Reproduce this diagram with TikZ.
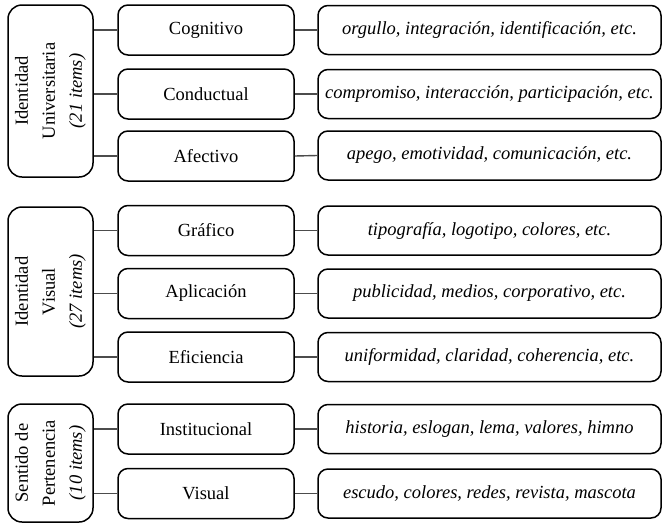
\documentclass[tikz,border=0pt]{standalone}
\usepackage{fontspec}
\setmainfont{Liberation Serif}
\begin{document}
\begin{tikzpicture}[x=1pt,y=-1pt,
  every node/.style={font=\fontsize{18.5}{27}\selectfont},
  leftbox/.style={draw, line width=1.5pt, rounded corners=14pt, minimum width=85pt, inner sep=0pt},
  midbox/.style={draw, line width=1.5pt, rounded corners=10pt, minimum width=176pt, minimum height=50pt, inner sep=0pt},
  rightbox/.style={draw, line width=1.5pt, rounded corners=10pt, minimum width=343pt, minimum height=49pt, inner sep=0pt, font=\fontsize{18.5}{27}\selectfont\itshape},
  vlabel/.style={rotate=90, align=center, inner sep=0pt},
  link/.style={draw=black!70, line width=1.4pt}]
\useasboundingbox (0,0) rectangle (669,528);
% group 1
\node[leftbox, minimum height=172pt] (L1) at (50.5,91) {};
\node[vlabel] (L1t) at (L1.center) {Identidad\\Universitaria\\\textit{(21 items)}};
\node[midbox] (M11) at (206,30) {Cognitivo};
\node[midbox] (M12) at (206,94) {Conductual};
\node[midbox] (M13) at (206,156) {Afectivo};
\node[rightbox] (R11) at (489.5,30) {orgullo, integración, identificación, etc.};
\node[rightbox] (R12) at (489.5,94) {compromiso, interacción, participación, etc.};
\node[rightbox] (R13) at (489.5,155.5) {apego, emotividad, comunicación, etc.};
% group 2
\node[leftbox, minimum height=169pt] (L2) at (50.5,291.5) {};
\node[vlabel] (L2t) at (L2.center) {Identidad\\Visual\\\textit{(27 items)}};
\node[midbox] (M21) at (206,230.5) {Gráfico};
\node[midbox] (M22) at (206,293.5) {Aplicación};
\node[midbox] (M23) at (206,357) {Eficiencia};
\node[rightbox] (R21) at (489.5,230.5) {tipografía, logotipo, colores, etc.};
\node[rightbox] (R22) at (489.5,293.5) {publicidad, medios, corporativo, etc.};
\node[rightbox] (R23) at (489.5,357) {uniformidad, claridad, coherencia, etc.};
% group 3
\node[leftbox, minimum height=118pt] (L3) at (50.5,463) {};
\node[vlabel] (L3t) at (L3.center) {Sentido de\\Pertenencia\\\textit{(10 items)}};
\node[midbox] (M31) at (206,429) {Institucional};
\node[midbox] (M32) at (206,493.5) {Visual};
\node[rightbox] (R31) at (489.5,429) {historia, eslogan, lema, valores, himno};
\node[rightbox] (R32) at (489.5,493.5) {escudo, colores, redes, revista, mascota};
% connectors
\foreach \g/\m in {1/1,1/2,1/3,2/1,2/2,2/3,3/1,3/2}{
  \draw[link] (L\g.east |- M\g\m) -- (M\g\m.west);
  \draw[link] (M\g\m.east) -- (R\g\m.west);
}
\end{tikzpicture}
\end{document}
